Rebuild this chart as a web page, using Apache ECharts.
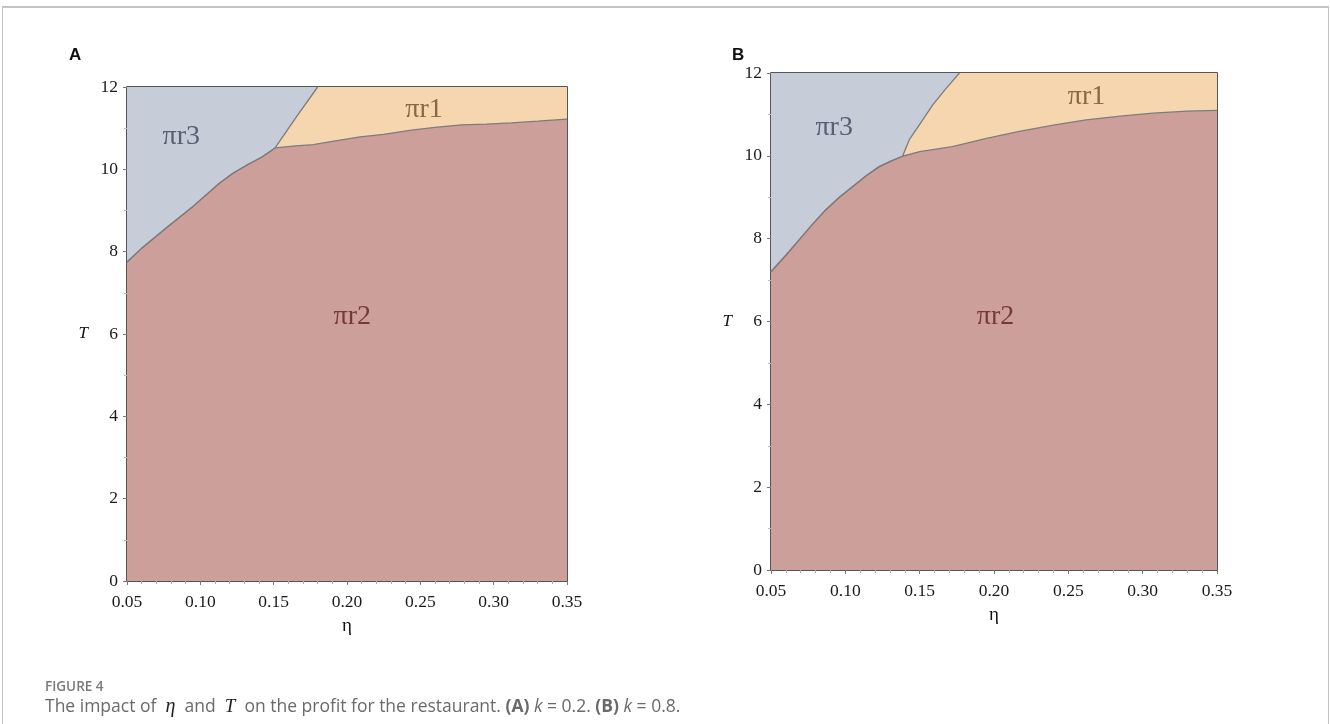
<!DOCTYPE html>
<html>
<head>
<meta charset="utf-8">
<script src="https://cdn.jsdelivr.net/npm/echarts@6/dist/echarts.min.js"></script>
<style>
  html, body { margin: 0; padding: 0; background: #fff; }
  #frame { position: absolute; left: 2px; top: 6px; width: 1325px; height: 740px;
           border-top: 2px solid #c4c4c4; border-left: 1px solid #c4c4c4; border-right: 1px solid #c4c4c4; }
  #chart { position: absolute; left: 0; top: 0; width: 1330px; height: 724px; }
</style>
</head>
<body>
<div id="frame"></div>
<div id="chart"></div>
<script>
// ---------- data (eta, T) ----------
// Panel A (k = 0.2)
const A_pi3_pi2 = [[0.05,7.75],[0.06,8.08],[0.079,8.64],[0.095,9.1],[0.113,9.66],[0.122,9.9],[0.1315,10.1],[0.142,10.3],[0.151,10.52]];
const A_pi3_pi1 = [[0.151,10.52],[0.165,11.25],[0.18,12]];
const A_pi1_pi2 = [[0.151,10.52],[0.165,10.57],[0.177,10.6],[0.19,10.68],[0.209,10.79],[0.225,10.85],[0.244,10.95],[0.26,11.02],[0.278,11.08],[0.295,11.1],[0.312,11.13],[0.33,11.17],[0.35,11.22]];
// Panel B (k = 0.8)
const B_pi3_pi2 = [[0.05,7.2],[0.06,7.6],[0.0689,7.97],[0.078,8.35],[0.0869,8.7],[0.096,9.0],[0.105,9.26],[0.114,9.52],[0.1228,9.74],[0.131,9.88],[0.1385,9.99]];
const B_pi3_pi1 = [[0.1385,9.99],[0.143,10.39],[0.1498,10.75],[0.1588,11.23],[0.1678,11.63],[0.1768,12]];
const B_pi1_pi2 = [[0.1385,9.99],[0.15,10.1],[0.172,10.22],[0.195,10.42],[0.217,10.59],[0.24,10.74],[0.262,10.87],[0.285,10.96],[0.307,11.03],[0.33,11.08],[0.35,11.1]];

const regionNames = ['πr1', 'πr2', 'πr3'];
const xTicks = [0.05, 0.35, 0.05];   // min, max, interval
const yTicks = [0, 12, 2];
const labelsA = { 'πr3': [0.087, 10.79], 'πr1': [0.2525, 11.44], 'πr2': [0.2036, 6.41] };
const labelsB = { 'πr3': [0.0925, 10.67], 'πr1': [0.2622, 11.43], 'πr2': [0.201, 6.12] };

// ---------- styles ----------
const C1 = '#f6d6ae', C2 = '#cd9f9b', C3 = '#c7ccd9', LINE = '#7f7b7b';
const TXT = { 'πr1': '#6e4d28', 'πr2': '#5c1e1e', 'πr3': '#3d4359' };
const SERIF = '"Liberation Serif", "DejaVu Serif", serif';

const chart = echarts.init(document.getElementById('chart'));

function axes(idx) {
  return {
    x: {
      type: 'value', gridIndex: idx, min: xTicks[0], max: xTicks[1], interval: xTicks[2],
      name: 'η', nameLocation: 'middle', nameGap: 36,
      nameTextStyle: { fontFamily: SERIF, fontSize: 19, color: '#111' },
      axisLine: { show: false },
      axisTick: { show: true, length: 4, lineStyle: { color: '#777' } },
      minorTick: { show: true, splitNumber: 5, length: 3, lineStyle: { color: '#aaa' } },
      splitLine: { show: false },
      axisLabel: { fontFamily: SERIF, fontSize: 17.5, color: '#1a1a1a', margin: 12,
                   formatter: v => v.toFixed(2) }
    },
    y: {
      type: 'value', gridIndex: idx, min: yTicks[0], max: yTicks[1], interval: yTicks[2],
      name: 'T', nameLocation: 'middle', nameGap: 39, nameRotate: 0,
      nameTextStyle: { fontFamily: SERIF, fontSize: 17, fontStyle: 'italic', color: '#111' },
      axisLine: { show: false },
      axisTick: { show: true, length: 4, lineStyle: { color: '#777' } },
      minorTick: { show: true, splitNumber: 2, length: 3, lineStyle: { color: '#bbb' } },
      splitLine: { show: false },
      axisLabel: { fontFamily: SERIF, fontSize: 17.5, color: '#1a1a1a', margin: 9 }
    }
  };
}

function panelSeries(idx, b32, b31, b12, labels) {
  const upper = b32.concat(b12.slice(1));   // top edge of πr2
  const pi3 = b32.concat(b31.slice(1));     // lower-right edge of πr3
  const base = { type: 'line', xAxisIndex: idx, yAxisIndex: idx, symbol: 'none', smooth: false, animation: false, silent: true };
  return [
    Object.assign({}, base, { name: regionNames[0], data: upper, lineStyle: { width: 0 },
      areaStyle: { origin: 'end', color: C1, opacity: 1 } }),
    Object.assign({}, base, { name: regionNames[1], data: upper, lineStyle: { width: 1.3, color: LINE },
      areaStyle: { origin: 'start', color: C2, opacity: 1 } }),
    Object.assign({}, base, { name: regionNames[2], data: pi3, lineStyle: { width: 1.3, color: LINE },
      areaStyle: { origin: 'end', color: C3, opacity: 1 } }),
    {
      type: 'scatter', xAxisIndex: idx, yAxisIndex: idx, symbolSize: 0, silent: true, animation: false, z: 5,
      data: regionNames.map(n => ({ value: labels[n], name: n, label: { color: TXT[n] } })),
      label: { show: true, position: 'inside', formatter: p => p.name,
               fontFamily: SERIF, fontSize: 28 }
    }
  ];
}

const aA = axes(0), aB = axes(1);

chart.setOption({
  animation: false,
  grid: [
    { left: 127, right: 763, top: 87, bottom: 143, show: true, borderColor: '#1e1e1e', borderWidth: 1.5, backgroundColor: 'transparent' },
    { left: 771, right: 113, top: 73, bottom: 154, show: true, borderColor: '#1e1e1e', borderWidth: 1.5, backgroundColor: 'transparent' }
  ],
  xAxis: [aA.x, aB.x],
  yAxis: [aA.y, aB.y],
  title: [
    { text: 'A', left: 64, top: 42, textStyle: { fontFamily: '"Liberation Sans", Arial, sans-serif', fontWeight: 'bold', fontSize: 17, color: '#111' } },
    { text: 'B', left: 727, top: 42, textStyle: { fontFamily: '"Liberation Sans", Arial, sans-serif', fontWeight: 'bold', fontSize: 17, color: '#111' } },
    { text: 'FIGURE 4', left: 40, top: 675, textStyle: { fontFamily: '"Open Sans", sans-serif', fontWeight: 600, fontSize: 13.5, color: '#7a7a7a' } },
    {
      text: 'The impact of  {i|η}  and  {t|T}  on the profit for the restaurant. {b|(A)} {k|k} = 0.2. {b|(B)} {k|k} = 0.8.',
      left: 40, top: 692,
      textStyle: {
        fontFamily: '"Open Sans", sans-serif', fontSize: 17.5, fontWeight: 'normal', color: '#6a6a6a',
        rich: {
          i: { fontFamily: SERIF, fontStyle: 'italic', fontSize: 20, color: '#222' },
          t: { fontFamily: SERIF, fontStyle: 'italic', fontSize: 19, color: '#222' },
          b: { fontFamily: '"Open Sans", sans-serif', fontWeight: 'bold', fontSize: 17.5, color: '#6a6a6a' },
          k: { fontFamily: '"Open Sans", sans-serif', fontStyle: 'italic', fontSize: 17.5, color: '#6a6a6a' }
        }
      }
    }
  ],
  series: panelSeries(0, A_pi3_pi2, A_pi3_pi1, A_pi1_pi2, labelsA)
    .concat(panelSeries(1, B_pi3_pi2, B_pi3_pi1, B_pi1_pi2, labelsB))
});
</script>
</body>
</html>
